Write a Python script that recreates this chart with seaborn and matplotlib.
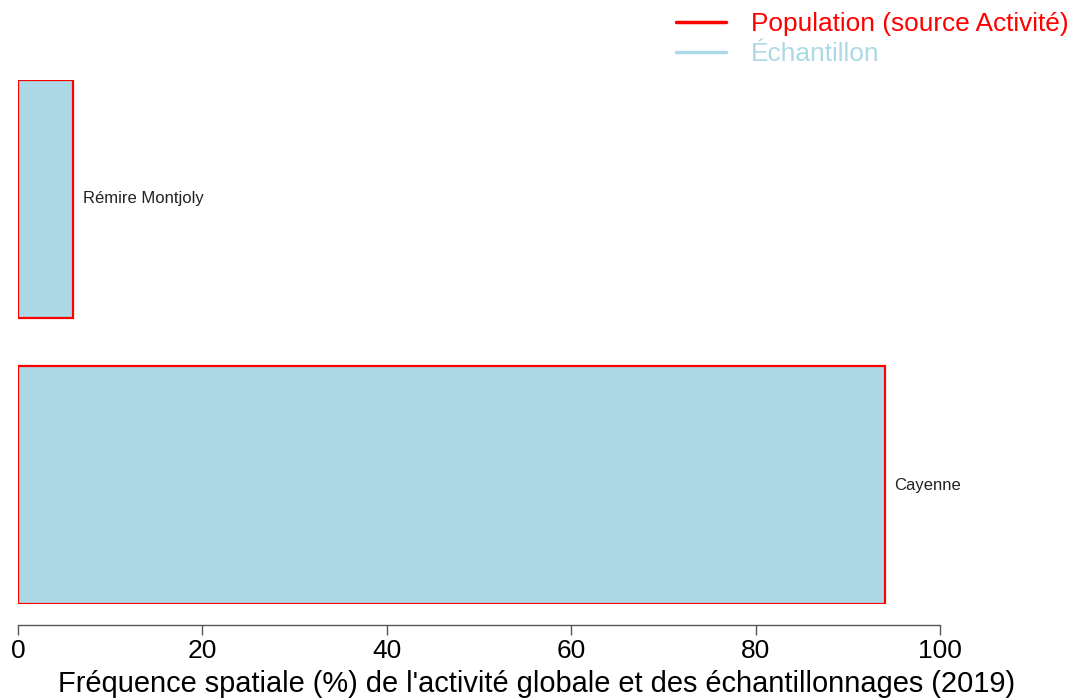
import matplotlib
matplotlib.use("Agg")
import matplotlib.pyplot as plt
import seaborn as sns
from matplotlib.lines import Line2D

# Data
communes = ["Rémire Montjoly", "Cayenne"]
population_pct = [6.0, 94.0]
echantillon_pct = [6.0, 94.0]
x_ticks = [0, 20, 40, 60, 80, 100]

sns.set_style("white")
plt.rcParams['font.family'] = ['Liberation Sans', 'DejaVu Sans']

fig = plt.figure(figsize=(10.73, 7.0), dpi=100)
ax = fig.add_axes([18 / 1073, 96 / 700, 922 / 1073, 524 / 700])

# Sample bars (filled) then population outlines on top
sns.barplot(x=echantillon_pct, y=communes, orient='h', color='lightblue',
            saturation=1, width=0.833, linewidth=0, ax=ax)
sns.barplot(x=population_pct, y=communes, orient='h', color='red',
            fill=False, width=0.833, linewidth=1.6, ax=ax)

# Commune labels at the end of each bar
for i, (name, val) in enumerate(zip(communes, population_pct)):
    ax.annotate(name, xy=(val, i), xytext=(7, 0), textcoords='offset points',
                ha='left', va='center', fontsize=12, color='#222222')

ax.set_xlim(0, 100)
ax.set_ylim(1.416, -0.416)
ax.set_xticks(x_ticks)
ax.set_xticklabels([str(t) for t in x_ticks])
ax.tick_params(axis='x', direction='out', length=7, width=1, color='#555555',
               pad=3, bottom=True, labelsize=19, labelcolor='black')
ax.set_yticks([])
ax.set_ylabel("")
ax.set_xlabel("")

# Axis title centred on the figure, as in the reference
fig.text(0.5, 16 / 700, "Fréquence spatiale (%) de l'activité globale et des échantillonnages (2019)",
         ha='center', va='center', fontsize=20.9, color='black')

for side in ['left', 'top', 'right']:
    ax.spines[side].set_visible(False)
ax.spines['bottom'].set_position(('outward', 15))
ax.spines['bottom'].set_bounds(0, 100)
ax.spines['bottom'].set_color('#555555')
ax.spines['bottom'].set_linewidth(1)

handles = [Line2D([], [], color='red', lw=2.5),
           Line2D([], [], color='lightblue', lw=2.5)]
fig.legend(handles, ["Population (source Activité)", "Échantillon"],
           loc='upper right', bbox_to_anchor=(1.018, 1.016), frameon=False,
           fontsize=18.9, labelcolor=['red', 'lightblue'], handlelength=1.9,
           handletextpad=0.95, labelspacing=0.22)

fig.savefig("out.png", dpi=100)
